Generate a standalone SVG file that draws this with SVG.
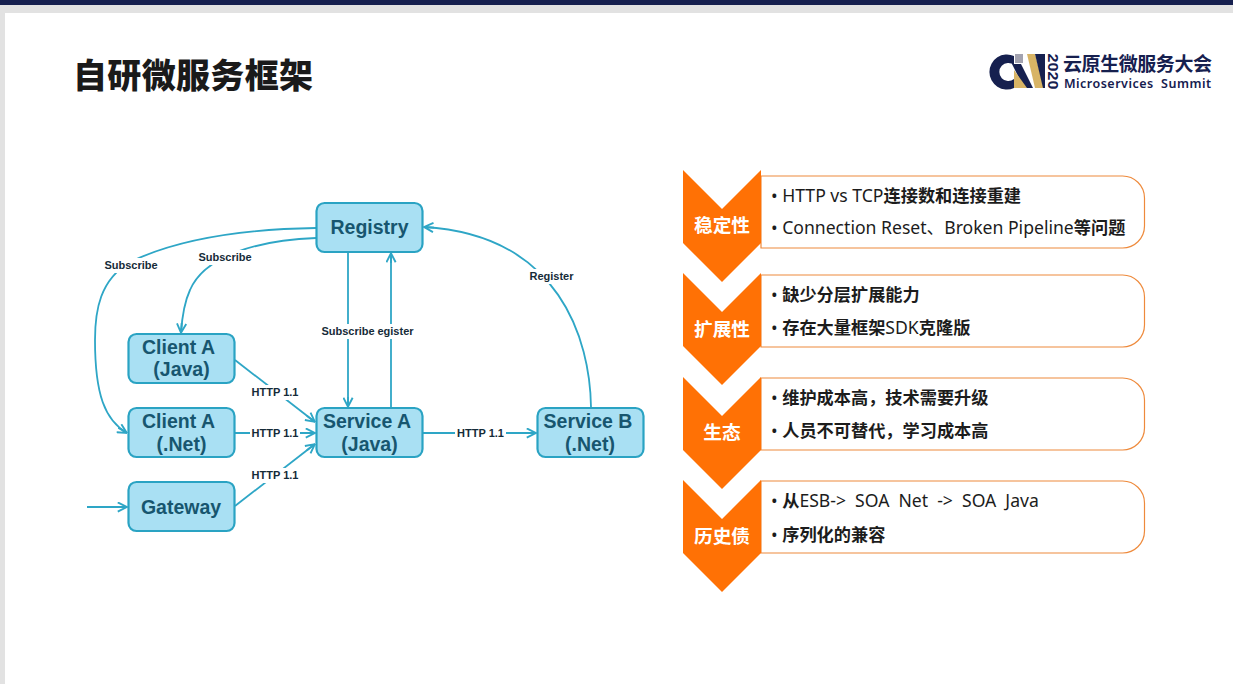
<svg xmlns="http://www.w3.org/2000/svg" width="1233" height="684" viewBox="0 0 1233 684">
  <style>
    .cjk { font-family: "Noto Sans CJK SC", "Noto Sans", sans-serif; }
    .node rect { fill: #a9e0f3; stroke: #2aa3c3; stroke-width: 2.2; }
    .node text { font-family: "Liberation Sans", Arial, sans-serif; font-weight: 700; font-size: 19.5px; fill: #17566f; text-anchor: middle; }
    .edge { fill: none; stroke: #2ea6c6; stroke-width: 1.8; marker-end: url(#arrow); }
    .plain { fill: none; stroke: #2ea6c6; stroke-width: 1.8; }
    .lab { font-family: "Liberation Sans", Arial, sans-serif; font-weight: 700; font-size: 11px; fill: #152b38; text-anchor: middle; }
    .lab-bg { fill: #ffffff; }
    .panel { fill: #ffffff; stroke: #ee8a3c; stroke-width: 1.2; }
    .chev { fill: #ff7105; }
    .chev-t { font-family: "Noto Sans CJK SC", sans-serif; font-weight: 700; font-size: 18.7px; fill: #ffffff; text-anchor: middle; }
    .item { font-family: "Noto Sans", "Open Sans", "Noto Sans CJK SC", sans-serif; font-size: 17.6px; fill: #1c1c1c; }
    .item .z { font-family: "Noto Sans CJK SC", sans-serif; font-weight: 700; font-size: 17.2px; }
  </style>
  <defs>
    <marker id="arrow" viewBox="0 0 10 10" refX="9.4" refY="5" markerWidth="11" markerHeight="11" markerUnits="userSpaceOnUse" orient="auto">
      <path d="M1 0.8 L9.2 5 L1 9.2 M9.2 5 L0 5" fill="none" stroke="#2ea6c6" stroke-width="1.7"/>
    </marker>
  </defs>

  <!-- page frame -->
  <rect width="1233" height="684" fill="#ffffff"/>
  <rect width="1233" height="13" fill="#e2e2e2"/>
  <rect width="5" height="684" fill="#e2e2e2"/>
  <rect width="1233" height="5" fill="#16204f"/>

  <text class="cjk" x="73" y="88" font-size="34" font-weight="900" fill="#1a1a1a" textLength="240">自研微服务框架</text>

  <!-- event logo -->
  <g id="logo">
    <path d="M1014 56 A17.500 17.500 0 1 0 1014 88 L1014 79 A9 9 0 1 1 1014 65 Z" fill="#16204f"/>
    <path d="M1012 64 L1021 64 L1033 88 L1024 88 Z" fill="#16204f"/>
    <path d="M1014 70 L1027 88 L1014 88 Z" fill="#d8b465"/>
    <rect x="1015" y="54" width="8" height="9" fill="#a3a3b0"/>
    <path d="M1027 54 L1035 54 L1044 88 L1035 88 Z" fill="#d8b465"/>
    <path d="M1035 54 L1045 54 L1045 88 L1043 88 Z" fill="#16204f"/>
    <text transform="translate(1048 53.500) rotate(90)" font-family="Liberation Sans, sans-serif" font-weight="700" font-size="14" fill="#16204f" textLength="36" lengthAdjust="spacingAndGlyphs">2020</text>
    <text class="cjk" x="1063" y="71" font-size="19" font-weight="700" fill="#16204f" textLength="149">云原生微服务大会</text>
    <text x="1064" y="88" font-family="Noto Sans, sans-serif" font-weight="600" font-size="12.500" fill="#16204f" textLength="147" xml:space="preserve">Microservices  Summit</text>
  </g>

  <!-- connectors -->
  <g id="connectors">
    <path class="plain" d="M316 228 C250 229 180 238 130 262 C100 280 95 310 95 340 C95 395 105 420 127 433" marker-end="url(#arrow)"/>
    <path class="edge" d="M316 238 C260 240 205 255 190 290 C184 303 182 318 181 333"/>
    <path class="edge" d="M348 252 L348 407"/>
    <path class="edge" d="M391 407 L391 253"/>
    <path class="edge" d="M591 407 C590 340 560 235 424 227"/>
    <path class="edge" d="M235 360 L315 422"/>
    <path class="edge" d="M235 433 L315 433"/>
    <path class="edge" d="M235 506 L315 444"/>
    <path class="edge" d="M423 433 L536 433"/>
    <path class="edge" d="M87 507 L127 507"/>

    <g id="edge-labels">
      <rect class="lab-bg" x="102" y="258" width="58" height="15"/>
      <text class="lab" x="131" y="269">Subscribe</text>
      <rect class="lab-bg" x="196" y="250" width="58" height="15"/>
      <text class="lab" x="225" y="261">Subscribe</text>
      <rect class="lab-bg" x="320" y="324" width="96" height="15"/>
      <text class="lab" x="348" y="335">Subscribe</text>
      <text class="lab" x="395.500" y="335">egister</text>
      <rect class="lab-bg" x="527" y="269" width="49" height="15"/>
      <text class="lab" x="551.500" y="280" font-weight="400">Register</text>
      <rect class="lab-bg" x="250" y="385" width="50" height="15"/>
      <text class="lab" x="275" y="396">HTTP 1.1</text>
      <rect class="lab-bg" x="250" y="426" width="50" height="15"/>
      <text class="lab" x="275" y="437">HTTP 1.1</text>
      <rect class="lab-bg" x="250" y="468" width="50" height="15"/>
      <text class="lab" x="275" y="479">HTTP 1.1</text>
      <rect class="lab-bg" x="455" y="426" width="51" height="15"/>
      <text class="lab" x="480.500" y="437">HTTP 1.1</text>
    </g>
  </g>

  <!-- diagram nodes -->
  <g id="registry" class="node"><rect x="316.500" y="203" width="106" height="49" rx="8"/><text x="369.500" y="234">Registry</text></g>
  <g id="client-java" class="node"><rect x="128.500" y="334" width="106" height="49" rx="8"/><text x="178.500" y="354">Client A</text><text x="181.500" y="376">(Java)</text></g>
  <g id="client-net" class="node"><rect x="128.500" y="408" width="106" height="49" rx="8"/><text x="178.500" y="428">Client A</text><text x="181.500" y="451">(.Net)</text></g>
  <g id="gateway" class="node"><rect x="128.500" y="482" width="106" height="49" rx="8"/><text x="181" y="514">Gateway</text></g>
  <g id="service-a" class="node"><rect x="316.500" y="408" width="106" height="49" rx="8"/><text x="367" y="428">Service A</text><text x="369.500" y="451">(Java)</text></g>
  <g id="service-b" class="node"><rect x="537.500" y="408" width="106" height="49" rx="8"/><text x="588" y="428">Service B</text><text x="590" y="451">(.Net)</text></g>

  <!-- issue panels -->
  <g id="stability">
    <path class="panel" d="M761 176 H1122 A22 22 0 0 1 1144.500 198 V226 A22 22 0 0 1 1122 248 H761 Z"/>
    <path class="chev" d="M683 170 L722 209 L761 170 V243 L722 282 L683 243 Z"/>
    <text class="chev-t" x="722" y="232">稳定性</text>
    <text class="item" x="771" y="201.500">• HTTP vs TCP<tspan class="z" font-size="17.600">连接数和连接重建</tspan></text>
    <text class="item" x="771" y="234">• Connection Reset、Broken Pipeline<tspan class="z">等问题</tspan></text>
  </g>
  <g id="extension">
    <path class="panel" d="M761 275 H1122 A22 22 0 0 1 1144.500 297 V325 A22 22 0 0 1 1122 347 H761 Z"/>
    <path class="chev" d="M683 273 L722 312 L761 273 V346 L722 385 L683 346 Z"/>
    <text class="chev-t" x="722" y="336">扩展性</text>
    <text class="item" x="771" y="300.500">• <tspan class="z">缺少分层扩展能力</tspan></text>
    <text class="item" x="771" y="333.500">• <tspan class="z">存在大量框架</tspan>SDK<tspan class="z">克隆版</tspan></text>
  </g>
  <g id="ecosystem">
    <path class="panel" d="M761 378 H1122 A22 22 0 0 1 1144.500 400 V428 A22 22 0 0 1 1122 450 H761 Z"/>
    <path class="chev" d="M683 377 L722 416 L761 377 V450 L722 489 L683 450 Z"/>
    <text class="chev-t" x="722" y="439">生态</text>
    <text class="item" x="771" y="403.500">• <tspan class="z">维护成本高，技术需要升级</tspan></text>
    <text class="item" x="771" y="436.500">• <tspan class="z">人员不可替代，学习成本高</tspan></text>
  </g>
  <g id="legacy">
    <path class="panel" d="M761 481 H1122 A22 22 0 0 1 1144.500 503 V531 A22 22 0 0 1 1122 553 H761 Z"/>
    <path class="chev" d="M683 480 L722 519 L761 480 V553 L722 592 L683 553 Z"/>
    <text class="chev-t" x="722" y="543">历史债</text>
    <text class="item" x="771" y="507">• <tspan class="z">从</tspan><tspan word-spacing="4.500">ESB-&gt; SOA Net -&gt; SOA Java</tspan></text>
    <text class="item" x="771" y="540.500">• <tspan class="z">序列化的兼容</tspan></text>
  </g>
</svg>
